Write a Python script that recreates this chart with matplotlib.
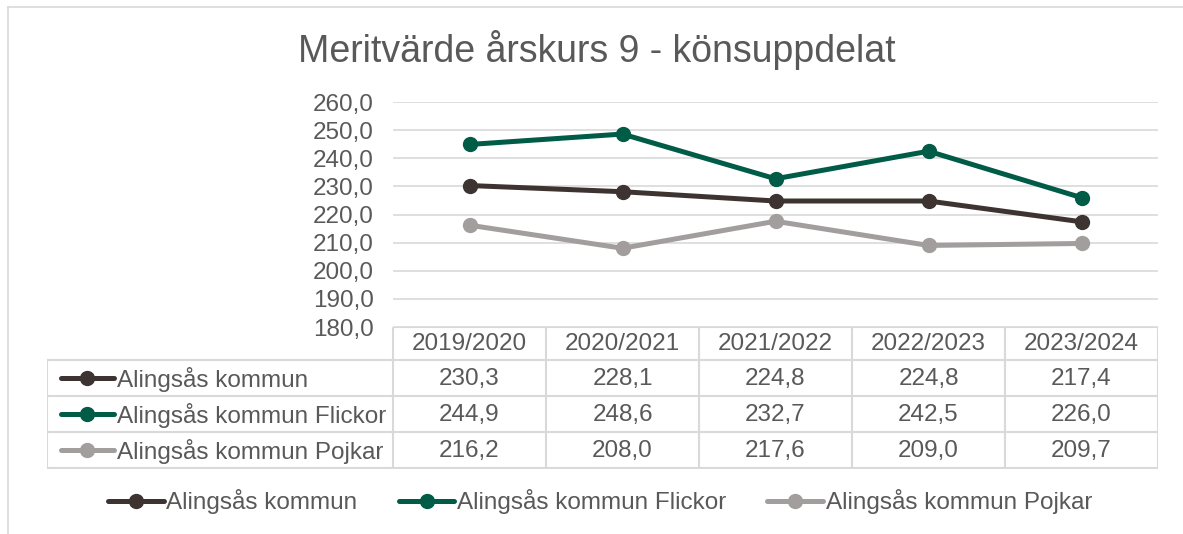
import matplotlib
matplotlib.use('Agg')
import matplotlib.pyplot as plt
from matplotlib.lines import Line2D

plt.rcParams['font.family'] = ['Liberation Sans', 'DejaVu Sans']

years = ['2019/2020', '2020/2021', '2021/2022', '2022/2023', '2023/2024']
series_names = ['Alingsås kommun', 'Alingsås kommun Flickor', 'Alingsås kommun Pojkar']
kommun = [230.3, 228.1, 224.8, 224.8, 217.4]
flickor = [244.9, 248.6, 232.7, 242.5, 226.0]
pojkar = [216.2, 208.0, 217.6, 209.0, 209.7]
yticks = [180, 190, 200, 210, 220, 230, 240, 250, 260]

series = [kommun, flickor, pojkar]
colors = ['#3d3431', '#005b47', '#a29e9d']
text_col = '#595959'
grid_col = '#d9d9d9'
fs = 17.5

W, H = 1183, 534
fig = plt.figure(figsize=(W / 100, H / 100), dpi=100)

def px_axes(x0, y0, x1, y1):
    return fig.add_axes([x0 / W, 1 - y1 / H, (x1 - x0) / W, (y1 - y0) / H])

# outer chart border (top and left visible)
fig.add_artist(Line2D([8 / W, 8 / W], [0, 1 - 7 / H], color=grid_col, lw=1.2, transform=fig.transFigure))
fig.add_artist(Line2D([8 / W, 1], [1 - 7 / H, 1 - 7 / H], color=grid_col, lw=1.2, transform=fig.transFigure))

fig.text(597 / W, 1 - 50 / H, 'Meritvärde årskurs 9 - könsuppdelat', ha='center', va='center',
         fontsize=27, color=text_col)

# plot area
ax = px_axes(393, 102, 1158, 327)
x = list(range(len(years)))
for vals, c in zip(series, colors):
    ax.plot(x, vals, color=c, lw=3.6, marker='o', ms=10, solid_capstyle='round', zorder=3)
ax.set_xlim(-0.5, len(years) - 0.5)
ax.set_ylim(180, 260)
ax.set_yticks(yticks)
ax.set_yticklabels([f'{v:.1f}'.replace('.', ',') for v in yticks], fontsize=fs, color=text_col)
ax.tick_params(axis='y', length=0, pad=14)
ax.set_xticks([])
ax.grid(axis='y', color=grid_col, lw=1.2)
for s in ax.spines.values():
    s.set_visible(False)
ax.set_axisbelow(True)

# data table
tx = px_axes(47, 327, 1158, 469)
tx.set_xlim(47, 1158)
tx.set_ylim(469, 327)
tx.axis('off')
col_left = 393
col_w = (1158 - 393) / len(years)
row_edges = [327, 360, 396, 432, 468]
lk = dict(color=grid_col, lw=1.5)
# header
tx.plot([col_left, 1158], [row_edges[0]] * 2, **lk)
for i, yr in enumerate(years):
    tx.text(col_left + (i + 0.5) * col_w, (row_edges[0] + row_edges[1]) / 2 + 1, yr,
            ha='center', va='center', fontsize=fs, color=text_col)
for y in row_edges[1:]:
    tx.plot([47, 1158], [y, y], **lk)
for i in range(len(years) + 1):
    tx.plot([col_left + i * col_w] * 2, [row_edges[0], row_edges[-1]], **lk)
tx.plot([47, 47], [row_edges[1], row_edges[-1]], **lk)
for r, (name, vals, c) in enumerate(zip(series_names, series, colors)):
    yc = (row_edges[r + 1] + row_edges[r + 2]) / 2
    tx.plot([61, 114], [yc, yc], color=c, lw=3.6, solid_capstyle='round')
    tx.plot([87], [yc], marker='o', ms=10, color=c)
    tx.text(117, yc + 1, name, ha='left', va='center', fontsize=fs, color=text_col)
    for i, v in enumerate(vals):
        tx.text(col_left + (i + 0.5) * col_w, yc + 1, f'{v:.1f}'.replace('.', ','),
                ha='center', va='center', fontsize=fs, color=text_col)

# legend
handles = [Line2D([], [], color=c, lw=3.6, marker='o', ms=10, solid_capstyle='round') for c in colors]
fig.legend(handles, series_names, loc='center', bbox_to_anchor=(600 / W, 1 - 502 / H), ncol=3,
           frameon=False, fontsize=fs, labelcolor=text_col, handlelength=2.3, handletextpad=0.1,
           columnspacing=1.7)

fig.savefig('out.png', dpi=100)
